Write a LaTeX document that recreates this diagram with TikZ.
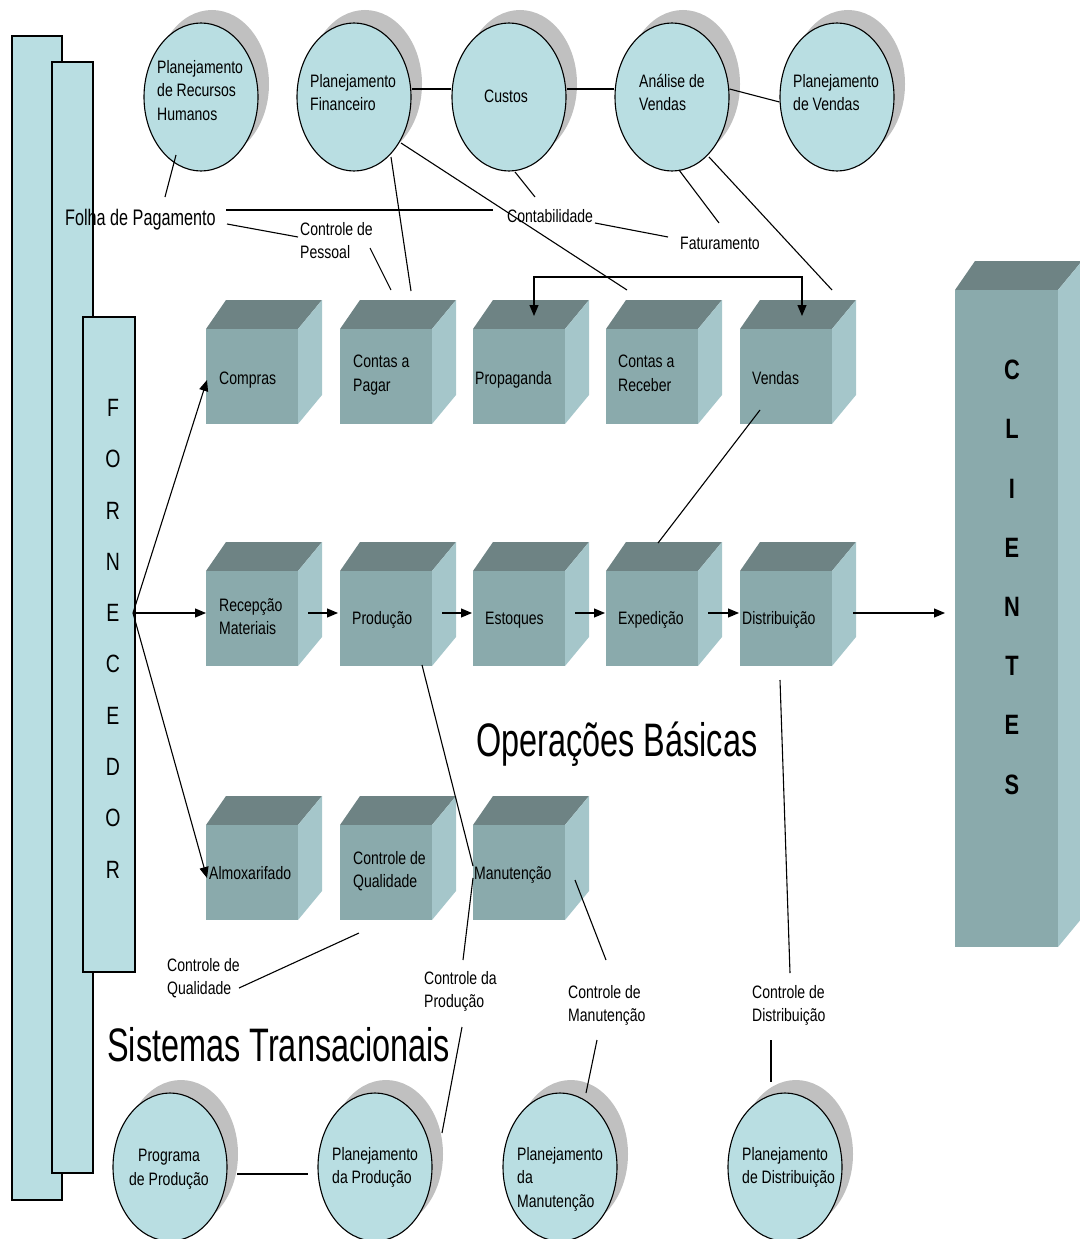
\documentclass[tikz,border=0pt]{standalone}
\usepackage{fontspec}
\setmainfont{Liberation Sans}
\newfontfamily\narrowfont[FakeStretch=0.78]{Liberation Sans}
\newfontfamily\folhafont[FakeStretch=0.72]{Liberation Sans}
\newfontfamily\titlefont[FakeStretch=0.69]{Liberation Sans}
\usetikzlibrary{arrows.meta,shapes.geometric}
\definecolor{panelfill}{HTML}{B9DEE2}
\definecolor{cubefront}{HTML}{8AAAAC}
\definecolor{cubetop}{HTML}{6E8384}
\definecolor{cubeside}{HTML}{A5C6CA}
\definecolor{shadowgray}{HTML}{C0C0C0}

\tikzset{
  link/.style={draw=black, line width=1.1pt},
  flow/.style={link, -{Triangle[length=11pt,width=9pt]}},
  twoflow/.style={link, {Triangle[length=11pt,width=9pt]}-{Triangle[length=11pt,width=9pt]}},
  panel/.style={draw=black, line width=1.1pt, fill=panelfill},
  bubble/.style={ellipse, draw=black, line width=1.1pt, fill=panelfill,
    minimum width=114pt, minimum height=148pt, inner sep=0pt},
  bubbleshade/.style={ellipse, fill=shadowgray,
    minimum width=114pt, minimum height=148pt, inner sep=0pt},
  lbl/.style={font=\narrowfont\fontsize{18}{23.5}\selectfont, inner sep=0pt,
    align=left, anchor=north west, execute at begin node=\rule{0pt}{14pt}},
  lblc/.style={lbl, align=center, anchor=north},
  bigtitle/.style={font=\titlefont\fontsize{47}{56}\selectfont, inner sep=0pt, anchor=base west},
}

% cube: name, x and y of the front face's top-left corner
\newcommand\blockcube[3]{%
  \fill[cubetop] (#2,#3) -- ({#2+20},{#3-29}) -- ({#2+116},{#3-29}) -- ({#2+92},#3) -- cycle;
  \fill[cubeside] ({#2+92},#3) -- ({#2+116},{#3-29}) -- ({#2+116},{#3+66}) -- ({#2+92},{#3+95}) -- cycle;
  \fill[cubefront] (#2,#3) rectangle ({#2+92},{#3+95});
  \coordinate (#1) at ({#2+46},{#3+47});}

% planning bubble with its grey shadow: name, centre x, centre y
\newcommand\planbubble[3]{%
  \node[bubbleshade] (#1-shade) at ({#2+11},{#3-13}) {};
  \node[bubble] (#1) at (#2,#3) {};}

\begin{document}
\begin{tikzpicture}[x=1pt,y=-1pt]
\useasboundingbox (0,0) rectangle (1079,1239);

% supplier panels
\draw[panel] (12,36) rectangle (62,1200);
\draw[panel] (52,62) rectangle (93,1173);
\draw[panel] (83,317) rectangle (135,972);
\node[font=\narrowfont\fontsize{25}{51.3}\selectfont, align=center, inner sep=0pt,
  anchor=north, execute at begin node=\rule{0pt}{20pt}] (fornecedor) at (113,399)
  {F\\O\\R\\N\\E\\C\\E\\D\\O\\R};

% customers block
\fill[cubetop] (955,290) -- (975,261) -- (1082,261) -- (1058,290) -- cycle;
\fill[cubeside] (1058,290) -- (1082,261) -- (1082,918) -- (1058,947) -- cycle;
\fill[cubefront] (955,290) rectangle (1058,947);
\node[font=\narrowfont\bfseries\fontsize{28}{59.2}\selectfont, align=center, inner sep=0pt,
  anchor=north, execute at begin node=\rule{0pt}{22pt}] (clientes) at (1012,360)
  {C\\L\\I\\E\\N\\T\\E\\S};

% planning bubbles
\planbubble{rh}{201}{97}
\planbubble{pf}{354}{97}
\planbubble{custos}{509}{97}
\planbubble{av}{672}{97}
\planbubble{pv}{837}{97}
\planbubble{pgp}{170}{1167}
\planbubble{plp}{375}{1167}
\planbubble{plm}{560}{1167}
\planbubble{pld}{785}{1167}

% basic operation cubes
\blockcube{compras}{206}{329}
\blockcube{pagar}{340}{329}
\blockcube{propaganda}{473}{329}
\blockcube{receber}{606}{329}
\blockcube{vendas}{740}{329}
\blockcube{recepcao}{206}{571}
\blockcube{producao}{340}{571}
\blockcube{estoques}{473}{571}
\blockcube{expedicao}{606}{571}
\blockcube{distribuicao}{740}{571}
\blockcube{almox}{206}{825}
\blockcube{qualidade}{340}{825}
\blockcube{manutencao}{473}{825}

% texts
\node[lbl] (trh) at (157,60) {Planejamento\\de Recursos\\Humanos};
\node[lbl] (tpf) at (310,74) {Planejamento\\Financeiro};
\node[lbl] (tcustos) at (484,88) {Custos};
\node[lbl] (tav) at (639,74) {Análise de\\Vendas};
\node[lbl] (tpv) at (793,74) {Planejamento\\de Vendas};

\node[font=\folhafont\fontsize{22.5}{27}\selectfont, inner sep=0pt, anchor=base west]
  (folha) at (65,225) {Folha de Pagamento};
\node[lbl] (pessoal) at (300,222) {Controle de\\Pessoal};
\node[lbl] (contab) at (507,208) {Contabilidade};
\node[lbl] (fatur) at (680,235) {Faturamento};

\node[lbl] (tcompras) at (219,370) {Compras};
\node[lbl] (tpagar) at (353,355) {Contas a\\Pagar};
\node[lbl] (tpropaganda) at (475,370) {Propaganda};
\node[lbl] (treceber) at (618,355) {Contas a\\Receber};
\node[lbl] (tvendas) at (752,370) {Vendas};

\node[lbl] (trecepcao) at (219,598) {Recepção\\Materiais};
\node[lbl] (tproducao) at (352,610) {Produção};
\node[lbl] (testoques) at (485,610) {Estoques};
\node[lbl] (texpedicao) at (618,610) {Expedição};
\node[lbl] (tdistribuicao) at (742,610) {Distribuição};

\node[lbl] (talmox) at (209,865) {Almoxarifado};
\node[lbl] (tqualidade) at (353,851) {Controle de\\Qualidade};
\node[lbl] (tmanutencao) at (474,865) {Manutenção};

\node[lbl] (cqual) at (167,958) {Controle de\\Qualidade};
\node[lbl] (cprod) at (424,971) {Controle da\\Produção};
\node[lbl] (cmanut) at (568,985) {Controle de\\Manutenção};
\node[lbl] (cdist) at (752,985) {Controle de\\Distribuição};

\node[lblc] (tpgp) at (169,1149) {Programa\\de Produção};
\node[lbl] (tplp) at (332,1147) {Planejamento\\da Produção};
\node[lbl] (tplm) at (517,1147) {Planejamento\\da\\Manutenção};
\node[lbl] (tpld) at (742,1147) {Planejamento\\de Distribuição};

\node[bigtitle] (opbasicas) at (476,756) {Operações Básicas};
\node[bigtitle] (sistrans) at (107,1061) {Sistemas Transacionais};

% connector end points
\coordinate (rhS) at (176,155);   \coordinate (folhaN) at (165,197);
\coordinate (folhaE) at (226,210); \coordinate (contabW) at (493,210);
\coordinate (folhaSE) at (227,224); \coordinate (pessoalW) at (298,237);
\coordinate (pessoalS) at (370,248); \coordinate (pagarN1) at (391,290);
\coordinate (pfS) at (391,157);    \coordinate (pagarN2) at (411,291);
\coordinate (pfSE) at (401,143);   \coordinate (receberN) at (627,290);
\coordinate (custosS) at (515,172); \coordinate (contabN) at (535,197);
\coordinate (contabE) at (595,223); \coordinate (faturW) at (668,237);
\coordinate (avS) at (679,170);    \coordinate (faturN) at (719,223);
\coordinate (avSE) at (709,157);   \coordinate (vendasN) at (832,290);
\coordinate (propIn) at (534,316); \coordinate (vendIn) at (802,316);
\coordinate (fornOut) at (133,613);
\coordinate (comprasIn) at (207,380);
\coordinate (recepcaoIn) at (206,613);
\coordinate (almoxIn) at (207,878);
\coordinate (vendasS) at (760,410); \coordinate (expedN) at (658,543);
\coordinate (distS) at (780,680);  \coordinate (cdistN) at (790,973);
\coordinate (prodS) at (422,665);  \coordinate (manutW) at (473,866);
\coordinate (manutW2) at (473,878); \coordinate (cprodN) at (463,960);
\coordinate (cprodS) at (462,1027); \coordinate (plpN) at (442,1133);
\coordinate (manutE) at (575,880); \coordinate (cmanutN) at (606,960);
\coordinate (cmanutS) at (597,1040); \coordinate (plmN) at (586,1093);
\coordinate (cdistS) at (771,1040); \coordinate (pldN) at (771,1082);
\coordinate (qualS) at (359,933);  \coordinate (cqualE) at (239,988);
\coordinate (pgpE) at (237,1174);  \coordinate (plpW) at (308,1174);

% management links
\draw[link] (pf.east |- 0,89) -- (custos.west |- 0,89);
\draw[link] (custos.east |- 0,89) -- (av.west |- 0,89);
\draw[link] (av.east |- 0,89) -- (pv.west |- 0,102);
\draw[link] (rhS) -- (folhaN);
\draw[link] (folhaE) -- (contabW);
\draw[link] (folhaSE) -- (pessoalW);
\draw[link] (pessoalS) -- (pagarN1);
\draw[link] (pfS) -- (pagarN2);
\draw[link] (pfSE) -- (receberN);
\draw[link] (custosS) -- (contabN);
\draw[link] (contabE) -- (faturW);
\draw[link] (avS) -- (faturN);
\draw[link] (avSE) -- (vendasN);
\draw[twoflow] (propIn) -- (534,277) -- (802,277) -- (vendIn);

% operational flow
\draw[flow] (fornOut) -- (comprasIn);
\draw[flow] (fornOut) -- (recepcaoIn);
\draw[flow] (fornOut) -- (almoxIn);
\draw[flow] (308,613) -- (338,613);
\draw[flow] (442,613) -- (472,613);
\draw[flow] (575,613) -- (605,613);
\draw[flow] (708,613) -- (739,613);
\draw[flow] (853,613) -- (945,613);

% transactional links
\draw[link] (vendasS) -- (expedN);
\draw[link] (distS) -- (cdistN);
\draw[link] (prodS) -- (manutW);
\draw[link] (manutW2) -- (cprodN);
\draw[link] (cprodS) -- (plpN);
\draw[link] (manutE) -- (cmanutN);
\draw[link] (cmanutS) -- (plmN);
\draw[link] (cdistS) -- (pldN);
\draw[link] (qualS) -- (cqualE);
\draw[link] (pgpE) -- (plpW);
\end{tikzpicture}
\end{document}
